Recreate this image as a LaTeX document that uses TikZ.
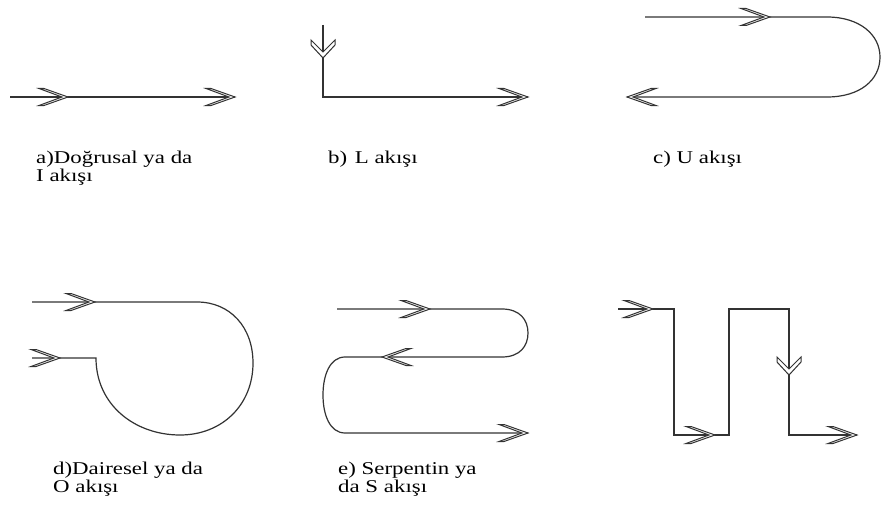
\documentclass[tikz,border=0pt]{standalone}
\usepackage{fontspec}
\usepackage{graphicx}
\setmainfont{Liberation Serif}
\definecolor{ink}{HTML}{333333}
\tikzset{
  flow/.style={draw=ink, line width=1.2pt},
  chevstyle/.style={draw=ink, line width=1pt, fill=white, line join=miter},
  rchev/.pic={\draw[chevstyle] (0,0) -- (-24,8.5) -- (-29,8.5) -- (-6,0) -- (-29,-8.5) -- (-24,-8.5) -- cycle;},
  lchev/.pic={\draw[chevstyle] (0,0) -- (24,8.5) -- (29,8.5) -- (6,0) -- (29,-8.5) -- (24,-8.5) -- cycle;},
  dchev/.pic={\draw[chevstyle] (0,0) -- (-12,-13) -- (-12,-18) -- (0,-6) -- (12,-18) -- (12,-13) -- cycle;},
  lbl/.style={anchor=north west, inner sep=0pt, text=black}
}
\newcommand{\lbltext}[1]{\fontsize{18}{17}\selectfont\scalebox{1.27}[1]{\begin{tabular}{@{}l@{}}#1\end{tabular}}}
\begin{document}
\begin{tikzpicture}[x=1pt,y=-1pt]
\useasboundingbox (0,0) rectangle (881,511);
\fill[white] (0,0) rectangle (881,511);

% a) straight / I flow
\coordinate (a1) at (10,97);
\coordinate (a2) at (235,97);
\draw[flow] (a1) -- (a2);
\pic at (68,97) {rchev};
\pic at (235,97) {rchev};
\node[lbl] (la) at (36,151) {\lbltext{a)Doğrusal ya da\\I akışı}};

% b) L flow
\coordinate (b1) at (323,25);
\coordinate (b2) at (323,97);
\coordinate (b3) at (528,97);
\draw[flow] (b1) -- (b2) -- (b3);
\pic at (323,58) {dchev};
\pic at (528,97) {rchev};
\node[lbl] (lb) at (328,151) {\lbltext{b)\,\,L akışı}};

% c) U flow
\coordinate (c1) at (645,17);
\coordinate (c2) at (827,17);
\coordinate (c3) at (827,97);
\coordinate (c4) at (627,97);
\draw[flow] (c1) -- (c2) .. controls (860,17) and (880,35) .. (880,57)
  .. controls (880,80) and (860,97) .. (c3) -- (c4);
\pic at (770,17) {rchev};
\pic at (627,97) {lchev};
\node[lbl] (lc) at (653,151) {\lbltext{c) U akışı}};

% d) circular / O flow
\coordinate (d1) at (32,302);
\coordinate (d2) at (197,302);
\coordinate (d3) at (32,358);
\coordinate (d4) at (96,358);
\draw[flow] (d1) -- (d2) .. controls (230,302) and (253,327) .. (253,363)
  .. controls (253,405) and (222,435) .. (180,435)
  .. controls (135,435) and (96,405) .. (d4) -- (d3);
\pic at (95,302) {rchev};
\pic at (60,358) {rchev};
\node[lbl] (ld) at (53,462) {\lbltext{d)Dairesel ya da\\O akışı}};

% e) serpentine / S flow
\coordinate (e1) at (337,309);
\coordinate (e2) at (502,309);
\coordinate (e3) at (502,357);
\coordinate (e4) at (345,357);
\coordinate (e5) at (345,433);
\coordinate (e6) at (528,433);
\draw[flow] (e1) -- (e2) .. controls (520,309) and (528,320) .. (528,333)
  .. controls (528,346) and (520,357) .. (e3) -- (e4)
  .. controls (330,357) and (323,375) .. (323,395)
  .. controls (323,415) and (330,433) .. (e5) -- (e6);
\pic at (430,309) {rchev};
\pic at (382,357) {lchev};
\pic at (528,433) {rchev};
\node[lbl] (le) at (338,462) {\lbltext{e) Serpentin ya\\da S akışı}};

% f) zig-zag flow
\coordinate (f1) at (618,309);
\coordinate (f2) at (674,309);
\coordinate (f3) at (674,435);
\coordinate (f4) at (729,435);
\coordinate (f5) at (729,309);
\coordinate (f6) at (789,309);
\coordinate (f7) at (789,435);
\coordinate (f8) at (857,435);
\draw[flow] (f1) -- (f2) -- (f3) -- (f4) -- (f5) -- (f6) -- (f7) -- (f8);
\pic at (653,309) {rchev};
\pic at (715,435) {rchev};
\pic at (789,375) {dchev};
\pic at (857,435) {rchev};
\end{tikzpicture}
\end{document}
